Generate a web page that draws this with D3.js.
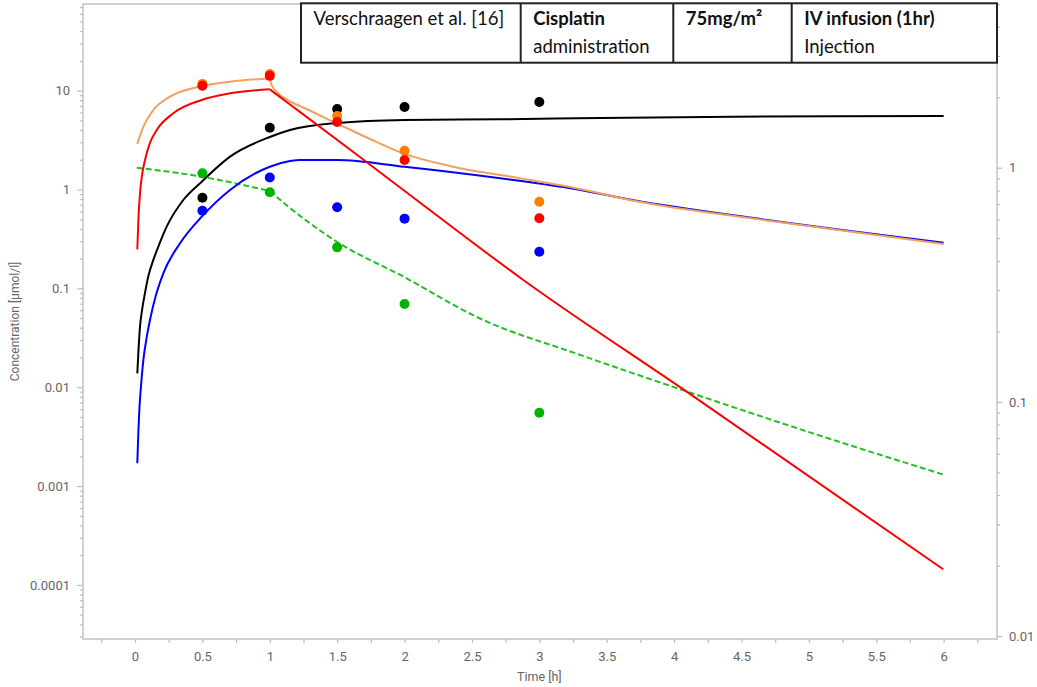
<!DOCTYPE html>
<html>
<head>
<meta charset="utf-8">
<script src="https://cdn.jsdelivr.net/npm/d3@7"></script>
<style>
  html, body { margin: 0; padding: 0; background: #fff; }
  svg { display: block; }
  .tick text { font-family: Roboto, "Noto Sans", sans-serif; font-size: 13px; fill: #666; }
  .tick line { stroke: #bdbdbd; stroke-width: 1.2; }
</style>
</head>
<body>
<svg id="chart" width="1037" height="687"></svg>
<script>
// ---- observed concentrations (sampling times in hours) ----
const sampleTimes = [0.5, 1, 1.5, 2, 3];
const orangeObs = [11.7, 14.7, 5.54, 2.47, 0.753];
const redObs    = [11.2, 14.1, 4.82, 1.99, 0.511];
const blackObs  = [0.826, 4.22, 6.52, 6.83, 7.67];
const blueObs   = [0.610, 1.32, 0.661, 0.507, 0.235];
const greenObs  = [0.946, 0.785, 0.457, 0.262, 0.0899];   // right axis

// ---- simulated profiles: [time h, concentration] ----
const blackFit = [[0.017,0.0138],[0.026,0.024],[0.037,0.041],[0.052,0.060],[0.074,0.0898],[0.1,0.135],[0.136,0.194],
  [0.18,0.28],[0.235,0.421],[0.358,0.783],[0.495,1.20],[0.705,2.15],[1.0,3.40],[1.15,4.00],[1.5,4.71],[2.0,5.05],
  [2.71,5.13],[3.45,5.29],[4.44,5.45],[6.0,5.54]];
const blueFit = [[0.017,0.0017],[0.024,0.0033],[0.032,0.00589],[0.045,0.0105],[0.062,0.0189],[0.085,0.031],[0.111,0.0479],
  [0.155,0.085],[0.21,0.142],[0.334,0.286],[0.495,0.531],[0.705,0.989],[1.0,1.70],[1.15,1.94],[1.224,1.99],[1.5,1.99],
  [2.0,1.70],[2.71,1.30],[3.23,1.03],[3.69,0.783],[4.69,0.492],[6.0,0.290]];
// infusion phase (0-1 h) and post-infusion phase
const redInfusion = [[0.017,0.248],[0.025,0.50],[0.037,0.916],[0.052,1.40],[0.074,1.99],[0.11,2.95],[0.161,4.00],
  [0.284,5.90],[0.495,8.04],[0.705,9.40],[1.0,10.3]];
const redPost = [[1.0,10.3],[1.15,7.24],[1.669,2.13],[1.991,0.989],[2.881,0.1216],[4.093,0.00902],[5.997,1.44e-4]];
const orangeInfusion = [[0.017,2.89],[0.062,4.32],[0.136,6.37],[0.26,8.68],[0.495,11.1],[0.705,12.3],[1.0,13.3]];
const orangePost = [[1.0,13.3],[1.013,11.4],[1.062,9.40],[1.15,7.77],[1.248,6.75],[1.496,4.67],[1.744,3.24],
  [1.99,2.32],[2.36,1.70],[2.857,1.30],[3.23,1.06],[3.69,0.774],[4.69,0.486],[6.0,0.281]];
const greenInfusion = [[0.013,1.0],[0.495,0.915],[1.0,0.795]];     // right axis
const greenPost = [[1.0,0.795],[1.15,0.673],[1.497,0.483],[1.99,0.343],[2.56,0.227],[3.30,0.159],
  [4.09,0.111],[5.03,0.0734],[6.01,0.0487]];                        // right axis

// ---- axis ticks ----
const xTicks = d3.range(-0.25, 6.26, 0.25);
const leftMajor = [0.0001, 0.001, 0.01, 0.1, 1, 10];
const rightMajor = [0.01, 0.1, 1];

// ---- header table ----
const headerCells = [
  { top: "Verschraagen et al. [16]", bottom: "", bold: false },
  { top: "Cisplatin", bottom: "administration", bold: true },
  { top: "75mg/m\u00B2", bottom: "", bold: true },
  { top: "IV infusion (1hr)", bottom: "Injection", bold: true }
];
const headerEdges = [301, 520.7, 673.3, 791.7, 997];

const svg = d3.select("#chart");
const plot = { left: 83, right: 997, top: 4, bottom: 639 };

const x = d3.scaleLinear().domain([-0.386, 6.396]).range([plot.left, plot.right]);
const yL = d3.scaleLog().domain([2.84e-5, 75.2]).range([plot.bottom, plot.top]);
const yR = d3.scaleLog().domain([0.00972, 5.0]).range([plot.bottom, plot.top]);

function minorTicks(scale) {
  const [lo, hi] = scale.domain();
  const out = [];
  for (let e = Math.floor(Math.log10(lo)); e <= Math.ceil(Math.log10(hi)); e++) {
    for (let m = 2; m <= 9; m++) {
      const v = m * Math.pow(10, e);
      if (v >= lo && v <= hi) out.push(v);
    }
  }
  return out;
}

// frame
svg.append("rect")
  .attr("x", plot.left).attr("y", plot.top)
  .attr("width", plot.right - plot.left).attr("height", plot.bottom - plot.top)
  .attr("fill", "none").attr("stroke", "#c6c6c6").attr("stroke-width", 1.6);

// x axis
const xAxis = svg.append("g").attr("transform", `translate(0,${plot.bottom})`)
  .call(d3.axisBottom(x).tickValues(xTicks).tickSize(4).tickPadding(9)
    .tickFormat(d => (d >= 0 && Math.abs(d * 2 - Math.round(d * 2)) < 1e-9) ? d3.format("~g")(+d.toFixed(2)) : ""));
xAxis.select(".domain").remove();

// left axis
const lMinor = svg.append("g").attr("transform", `translate(${plot.left},0)`)
  .call(d3.axisLeft(yL).tickValues(minorTicks(yL)).tickSize(3).tickFormat(""));
lMinor.select(".domain").remove();
const lMajor = svg.append("g").attr("transform", `translate(${plot.left},0)`)
  .call(d3.axisLeft(yL).tickValues(leftMajor).tickSize(6).tickPadding(7).tickFormat(d3.format("~f")));
lMajor.select(".domain").remove();

// right axis
const rMinor = svg.append("g").attr("transform", `translate(${plot.right},0)`)
  .call(d3.axisRight(yR).tickValues(minorTicks(yR)).tickSize(3).tickFormat(""));
rMinor.select(".domain").remove();
const rMajor = svg.append("g").attr("transform", `translate(${plot.right},0)`)
  .call(d3.axisRight(yR).tickValues(rightMajor).tickSize(5).tickPadding(7).tickFormat(d3.format("~f")));
rMajor.select(".domain").remove();

// axis titles
svg.append("text")
  .attr("x", x(3)).attr("y", 681)
  .attr("text-anchor", "middle")
  .style("font-family", "Roboto, sans-serif").style("font-size", "12.5px").style("fill", "#666")
  .text("Time [h]");
svg.append("text")
  .attr("transform", `translate(15,${(plot.top + plot.bottom) / 2}) rotate(-90)`)
  .attr("text-anchor", "middle").attr("dominant-baseline", "central")
  .style("font-family", "Roboto, sans-serif").style("font-size", "12px").style("fill", "#666")
  .text("Concentration [\u00B5mol/l]");

// curves
const lineL = d3.line().x(d => x(d[0])).y(d => yL(d[1])).curve(d3.curveMonotoneX);
const lineR = d3.line().x(d => x(d[0])).y(d => yR(d[1])).curve(d3.curveMonotoneX);
const curves = [
  { data: greenInfusion, gen: lineR, color: "#22c022", dash: "6,3" },
  { data: greenPost, gen: lineR, color: "#22c022", dash: "6,3" },
  { data: blackFit, gen: lineL, color: "#000000" },
  { data: blueFit, gen: lineL, color: "#0000ff" },
  { data: orangeInfusion, gen: lineL, color: "#f5a05a" },
  { data: orangePost, gen: lineL, color: "#f5a05a" },
  { data: redInfusion, gen: lineL, color: "#ff0000" },
  { data: redPost, gen: lineL, color: "#ff0000" }
];
svg.append("g").selectAll("path").data(curves).join("path")
  .attr("d", c => c.gen(c.data))
  .attr("fill", "none")
  .attr("stroke", c => c.color)
  .attr("stroke-width", 2)
  .attr("stroke-dasharray", c => c.dash || null);

// observations
const obsSets = [
  { vals: greenObs, scale: yR, color: "#00b400" },
  { vals: blueObs, scale: yL, color: "#0000ff" },
  { vals: blackObs, scale: yL, color: "#000000" },
  { vals: orangeObs, scale: yL, color: "#ff8000" },
  { vals: redObs, scale: yL, color: "#ff0000" }
];
obsSets.forEach(s => {
  svg.append("g").selectAll("circle").data(s.vals).join("circle")
    .attr("cx", (d, i) => x(sampleTimes[i]))
    .attr("cy", d => s.scale(d))
    .attr("r", 5)
    .attr("fill", s.color);
});

// header table
const head = svg.append("g");
head.append("rect")
  .attr("x", headerEdges[0]).attr("y", 3.3)
  .attr("width", headerEdges[4] - headerEdges[0]).attr("height", 59.4)
  .attr("fill", "#fff").attr("stroke", "#222").attr("stroke-width", 2);
headerEdges.slice(1, 4).forEach(e => {
  head.append("line").attr("x1", e).attr("x2", e).attr("y1", 3.3).attr("y2", 62.7)
    .attr("stroke", "#222").attr("stroke-width", 2);
});
headerCells.forEach((c, i) => {
  const tx = headerEdges[i] + 12.5;
  head.append("text").attr("x", tx).attr("y", 25)
    .style("font-family", "Lato, 'Open Sans', sans-serif").style("font-size", "18.5px")
    .style("font-weight", c.bold ? "bold" : "normal").style("fill", "#111")
    .text(c.top);
  if (c.bottom) {
    head.append("text").attr("x", tx).attr("y", 53)
      .style("font-family", "Lato, 'Open Sans', sans-serif").style("font-size", "18.5px")
      .style("fill", "#111")
      .text(c.bottom);
  }
});
</script>
</body>
</html>
